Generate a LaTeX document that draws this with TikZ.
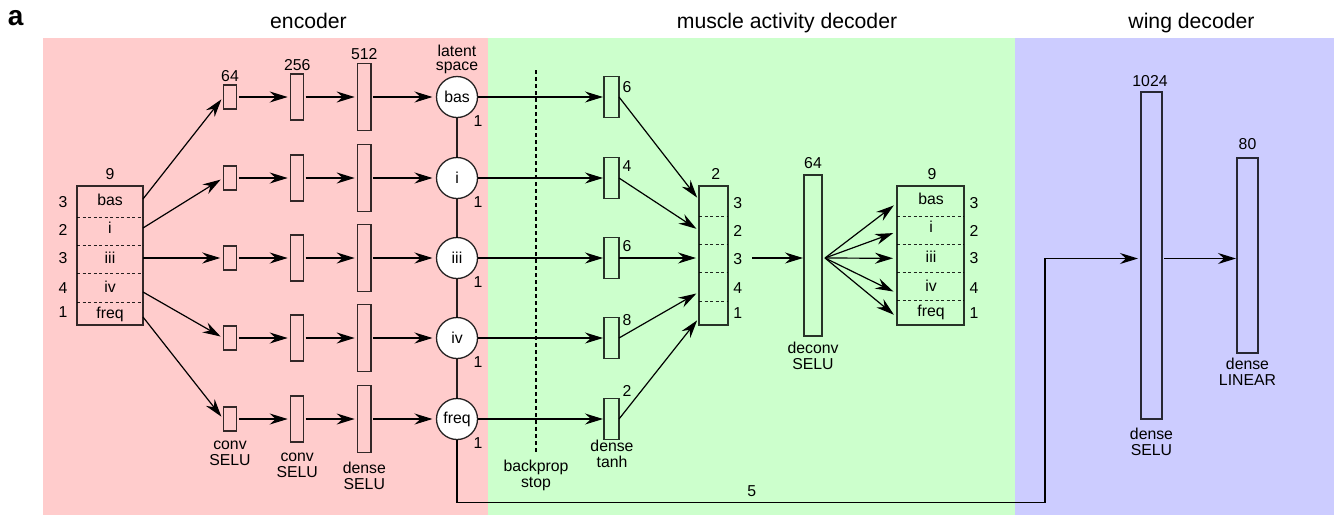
\documentclass[tikz,border=0pt]{standalone}
\usepackage{fontspec}
\setmainfont{Liberation Sans}
\usetikzlibrary{arrows.meta,calc}
\definecolor{encfill}{HTML}{FFCCCC}
\definecolor{musfill}{HTML}{CCFFCC}
\definecolor{wingfill}{HTML}{CCCCFF}
\begin{document}
\begin{tikzpicture}[x=1pt,y=-1pt,
  every node/.style={inner sep=0pt, outer sep=0pt},
  txt/.style={font=\fontsize{15.8}{16}\selectfont, anchor=base},
  txtc/.style={txt, align=center},
  heading/.style={font=\fontsize{21.2}{24}\selectfont, anchor=base},
  layer/.style={rectangle, draw=black, draw opacity=0.8, line width=1.3pt},
  latent/.style={circle, draw=black, draw opacity=0.85, fill=white, line width=1.3pt,
    minimum size=41pt, font=\fontsize{15.8}{16}\selectfont},
  flow/.style={-{Stealth[length=18pt,width=11pt,inset=6pt]}, line width=1.2pt,
    shorten >=3pt, shorten <=2pt},
  link/.style={line width=1.2pt, draw opacity=0.85},
  sep/.style={dash pattern=on 3pt off 2.5pt, line width=1pt, draw opacity=0.85},
  stopline/.style={line width=2pt, dash pattern=on 4pt off 3pt},
]
\path[use as bounding box] (0,0) rectangle (1344,515);

% panels
\fill[encfill] (43,38) rectangle (488,515);
\fill[musfill] (488,38) rectangle (1015,515);
\fill[wingfill] (1015,38) rectangle (1334,515);

% headings
\node[anchor=base west, font=\fontsize{28}{30}\selectfont\bfseries] (panel) at (8,25) {a};
\node[heading] (tenc) at (308.5,28) {encoder};
\node[heading] (tmus) at (787,28) {muscle activity decoder};
\node[heading] (twing) at (1191.5,28) {wing decoder};

% input vector
\node[layer, minimum width=66pt, minimum height=139pt] (inp) at (110,255.5) {};
\foreach \s in {217,245,273,302} \draw[sep] (77,\s) -- (143,\s);
\node[txt] (inN) at (110,179) {9};
\foreach \t/\b/\nm in {bas/205/a, i/233/b, iii/263/c, iv/292.7/d, freq/318/e}
  \node[txt] (int\nm) at (110,\b) {\t};
\foreach \k/\b/\nm in {3/207/a, 2/235/b, 3/263/c, 4/293/d, 1/317/e}
  \node[txt] (ink\nm) at (63,\b) {\k};
\coordinate (pa) at (143,199);
\coordinate (pb) at (143,228);
\coordinate (pc) at (143,258);
\coordinate (pd) at (143,292);
\coordinate (pe) at (143,317);

% encoder branches, latent units and dense tanh layers
\foreach \n/\y in {bas/97,i/178,iii/258,iv/338,freq/419} {
  \node[layer, minimum width=13.5pt, minimum height=24pt] (c1\n) at (230,\y) {};
  \node[layer, minimum width=13pt, minimum height=46pt] (c2\n) at (297.2,\y) {};
  \node[layer, minimum width=13.3pt, minimum height=67pt] (d\n) at (364.3,\y) {};
  \node[latent] (L\n) at (457,\y) {\n};
  \node[txt] (one\n) at (478,\y+29.7) {1};
  \node[layer, minimum width=15pt, minimum height=41pt] (t\n) at (611.5,\y) {};
  \draw[flow] (c1\n) -- (c2\n);
  \draw[flow] (c2\n) -- (d\n);
  \draw[flow, shorten >=4pt] (d\n) -- (L\n);
  \draw[flow, shorten <=0pt, shorten >=1pt] (L\n) -- (t\n);
}
\draw[flow, shorten <=0pt] (pa) -- (c1bas.west);
\draw[flow, shorten <=0pt] (pb) -- (c1i.west);
\draw[flow, shorten <=0pt] (pc) -- (c1iii.west);
\draw[flow, shorten <=0pt] (pd) -- (c1iv.west);
\draw[flow, shorten <=0pt] (pe) -- (c1freq.west);

\node[txt] (n64) at (230,81.7) {64};
\node[txt] (n256) at (297.2,70) {256};
\node[txt] (n512) at (364.3,59.3) {512};
\node[txtc, font=\fontsize{15.8}{14}\selectfont] (lat) at (457,70.7) {latent\\space};
\node[txtc] (lc1) at (230,465) {conv\\SELU};
\node[txtc] (lc2) at (297.2,477) {conv\\SELU};
\node[txtc] (ld) at (364.3,489) {dense\\SELU};

% latent chain and skip to the wing decoder
\draw[link] (Lbas) -- (Li) -- (Liii) -- (Liv) -- (Lfreq);
\coordinate (bend) at (1045,502.5);
\coordinate (w1in) at (1141,258.5);
\draw[flow, shorten <=0pt] (Lfreq.south) |- (bend) |- (w1in);
\node[txt] (five) at (751.7,496.7) {5};

% backprop stop
\draw[stopline] (536,70) -- (536,453);
\node[txtc] (bps) at (536,487) {backprop\\stop};

% dense tanh sizes
\node[txt, anchor=base west] (ka) at (622.5,92.3) {6};
\node[txt, anchor=base west] (kb) at (622.5,171) {4};
\node[txt, anchor=base west] (kc) at (622.5,251.7) {6};
\node[txt, anchor=base west] (kd) at (622.5,325.7) {8};
\node[txt, anchor=base west] (ke) at (622.5,396) {2};
\node[txtc] (dt) at (612,467.7) {dense\\tanh};

% merged muscle activity vector
\node[layer, minimum width=29pt, minimum height=139pt] (mg) at (713.5,255.5) {};
\foreach \s in {216,244,272,301} \draw[sep] (699,\s) -- (728,\s);
\node[txt] (mgN) at (715.7,179) {2};
\foreach \k/\b/\nm in {3/208/a, 2/236.7/b, 3/264/c, 4/293/d, 1/318/e}
  \node[txt] (mgk\nm) at (737.7,\b) {\k};
\coordinate (mga) at (699,200);
\coordinate (mgb) at (699,230.5);
\coordinate (mgc) at (699,258);
\coordinate (mgd) at (699,292);
\coordinate (mge) at (699,318);
\draw[flow, shorten <=0pt] (tbas.east) -- (mga);
\draw[flow, shorten <=0pt] (ti.east) -- (mgb);
\draw[flow, shorten <=0pt] (tiii.east) -- (mgc);
\draw[flow, shorten <=0pt] (tiv.east) -- (mgd);
\draw[flow, shorten <=0pt] (tfreq.east) -- (mge);

% deconvolution layer
\node[layer, minimum width=18pt, minimum height=161pt] (dc) at (813,255.5) {};
\node[txt] (dcN) at (813,168.3) {64};
\node[txtc] (dcl) at (813,369) {deconv\\SELU};
\coordinate (mout) at (752,258);
\draw[flow, shorten <=0pt, shorten >=1pt] (mout) -- (dc.west |- mout);

% reconstructed muscle activity
\node[layer, minimum width=67pt, minimum height=139pt] (outb) at (930.5,255.5) {};
\foreach \s in {216,244,272,300} \draw[sep] (897,\s) -- (964,\s);
\node[txt] (outN) at (932,179) {9};
\foreach \t/\b/\nm in {bas/204/a, i/232/b, iii/262/c, iv/291.7/d, freq/316/e}
  \node[txt] (outt\nm) at (931,\b) {\t};
\foreach \k/\b/\nm in {3/208/a, 2/236.7/b, 3/263/c, 4/293/d, 1/318/e}
  \node[txt] (outk\nm) at (974,\b) {\k};
\coordinate (dcout) at (825,258);
\coordinate (oa) at (897,203);
\coordinate (ob) at (897,231.7);
\coordinate (oc) at (897,258.3);
\coordinate (od) at (897,293.3);
\coordinate (oe) at (897,317.3);
\foreach \p in {oa,ob,oc,od,oe}
  \draw[flow, shorten <=0pt, shorten >=4pt] (dcout) -- (\p);

% wing decoder
\node[layer, minimum width=21pt, minimum height=327pt] (w1) at (1151.5,255.5) {};
\node[txt] (w1N) at (1150,86) {1024};
\node[txtc] (w1l) at (1151.5,455) {dense\\SELU};
\node[layer, minimum width=21pt, minimum height=195pt] (w2) at (1247.5,255.5) {};
\node[txt] (w2N) at (1247.5,149.3) {80};
\node[txtc] (w2l) at (1247.5,385) {dense\\LINEAR};
\draw[flow, shorten >=1pt] (w1.east |- w1in) -- (w2.west |- w1in);
\end{tikzpicture}
\end{document}
